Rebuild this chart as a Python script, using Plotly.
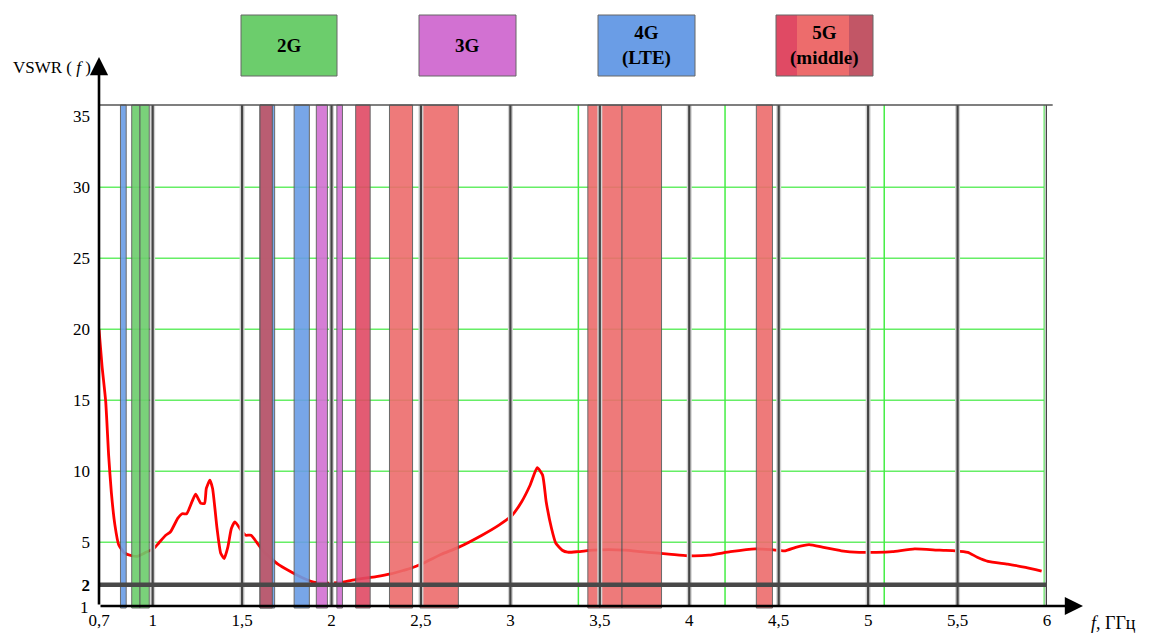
import plotly.graph_objects as go

# ---------------- data ----------------
freq_ghz = [0.70, 0.717, 0.7375, 0.754, 0.769, 0.789, 0.81, 0.842, 0.883, 0.914, 0.956,
            1.008, 1.033, 1.073, 1.10, 1.14, 1.165, 1.19, 1.22, 1.24, 1.27, 1.29, 1.30,
            1.32, 1.335, 1.36, 1.38, 1.40, 1.42, 1.44, 1.46, 1.50, 1.52, 1.55, 1.58,
            1.62, 1.70, 1.78, 1.84, 1.90, 1.95, 2.01, 2.065, 2.14, 2.25, 2.33, 2.40,
            2.443, 2.519, 2.614, 2.709, 2.841, 2.936, 3.01, 3.063, 3.11, 3.15, 3.18,
            3.20, 3.23, 3.254, 3.29, 3.32, 3.377, 3.46, 3.55, 3.64, 3.73, 3.81, 3.90,
            3.99, 4.11, 4.23, 4.37, 4.46, 4.536, 4.595, 4.67, 4.75, 4.85, 4.95, 5.046,
            5.135, 5.26, 5.40, 5.49, 5.557, 5.61, 5.67, 5.78, 5.88, 5.97]
vswr = [20.0, 17.4, 14.9, 11.1, 8.5, 6.2, 4.82, 4.24, 4.04, 4.0, 4.24,
        4.57, 4.92, 5.49, 5.73, 6.67, 7.0, 7.0, 7.85, 8.38, 7.73, 7.73, 8.78,
        9.37, 8.78, 5.96, 4.24, 3.84, 4.63, 5.96, 6.43, 5.73, 5.49, 5.49, 5.02,
        4.34, 3.45, 2.86, 2.47, 2.18, 2.12, 2.12, 2.18, 2.37, 2.57, 2.76, 3.0,
        3.16, 3.55, 4.14, 4.63, 5.49, 6.2, 6.9, 7.85, 9.01, 10.24, 9.72,
        7.85, 5.96, 4.92, 4.43, 4.29, 4.33, 4.43, 4.47, 4.43, 4.33, 4.24, 4.14,
        4.04, 4.08, 4.33, 4.53, 4.47, 4.39, 4.63, 4.82, 4.63, 4.39, 4.28, 4.28,
        4.33, 4.53, 4.43, 4.39, 4.28, 3.94, 3.65, 3.45, 3.22, 2.96]

# frequency bands (GHz) and their standard
band_start = [0.82, 0.883, 0.929, 1.60, 1.60, 1.791, 1.915, 2.03, 2.135, 2.324, 2.495,
              3.433, 3.50, 3.624, 4.375]
band_end = [0.852, 0.929, 0.981, 1.682, 1.669, 1.876, 1.977, 2.061, 2.216, 2.453, 2.709,
            3.50, 3.624, 3.845, 4.465]
band_kind = ["4G", "2G", "2G", "4G", "5Gc", "4G", "3G", "3G", "5Ga", "5Gb", "5Gb",
             "5Gb", "5Gb", "5Gb", "5Gb"]

x_tick_vals = [0.7, 1, 1.5, 2, 2.5, 3, 3.5, 4, 4.5, 5, 5.5, 6]
x_tick_text = ["0,7", "1", "1,5", "2", "2,5", "3", "3,5", "4", "4,5", "5", "5,5", "6"]
y_tick_vals = [2, 5, 10, 15, 20, 25, 30, 35]
y_tick_text = ["<b>2</b>", "5", "10", "15", "20", "25", "30", "35"]
y_min_label = 1

green_h_levels = [5, 10, 15, 20, 25, 30]
green_v_freqs = [3.38, 4.2, 5.09, 5.985]
dark_v_freqs = [1, 1.5, 2, 2.5, 3, 3.5, 4, 4.5, 5, 5.5, 6]
vswr_threshold = 2

legend_labels = ["2G", "3G", "4G<br>(LTE)", "5G<br>(middle)"]

# ---------------- style ----------------
colors = {"2G": "#6ccd6c", "3G": "#d271d2", "4G": "#6a9de6",
          "5Ga": "#e04a64", "5Gb": "#ed6c6c", "5Gc": "#c25666"}
FONT = "Liberation Serif, Times New Roman, serif"
W, H = 1152, 635
ML, MR, MT, MB = 99, 105, 105, 29
PW, PH = W - ML - MR, H - MT - MB


def px(xp):
    return (xp - ML) / PW


def py(yp):
    return (H - MB - yp) / PH


fig = go.Figure()
fig.add_trace(go.Scatter(x=freq_ghz, y=vswr, mode="lines",
                         line=dict(color="#ff0000", width=2.8, shape="spline", smoothing=0.5),
                         hoverinfo="x+y", showlegend=False))

shapes = []
for lv in green_h_levels:
    shapes.append(dict(type="line", xref="paper", yref="y", x0=0, x1=1, y0=lv, y1=lv,
                       line=dict(color="#66ee66", width=1.5), layer="below"))
for fv in green_v_freqs:
    shapes.append(dict(type="line", xref="x", yref="paper", x0=fv, x1=fv, y0=0, y1=1,
                       line=dict(color="#44ee44", width=1.5), layer="below"))
for s, e, k in zip(band_start, band_end, band_kind):
    shapes.append(dict(type="rect", xref="x", yref="paper", x0=s, x1=e, y0=-0.004, y1=1.0,
                       fillcolor=colors[k], opacity=0.9,
                       line=dict(color="#5a5a5a", width=1), layer="above"))
for fv in dark_v_freqs:
    shapes.append(dict(type="line", xref="x", yref="paper", x0=fv, x1=fv, y0=0, y1=1,
                       line=dict(color="#d2d2d2", width=5), layer="above"))
    shapes.append(dict(type="line", xref="x", yref="paper", x0=fv, x1=fv, y0=0, y1=1,
                       line=dict(color="#444444", width=2.2), layer="above"))
# top border line
shapes.append(dict(type="line", xref="paper", yref="paper", x0=0, x1=1.006, y0=1, y1=1,
                   line=dict(color="#555555", width=1.5), layer="above"))
# VSWR = 2 threshold
shapes.append(dict(type="line", xref="paper", yref="y", x0=0, x1=1.0,
                   y0=vswr_threshold, y1=vswr_threshold,
                   line=dict(color="#484848", width=4.5), layer="above"))

# legend boxes at the top
box_x = [(241, 337), (419, 516), (598, 695), (776, 873)]
box_col = ["2G", "3G", "4G", None]
annotations = []
for (x0, x1), k, lab in zip(box_x, box_col, legend_labels):
    if k is not None:
        shapes.append(dict(type="rect", xref="paper", yref="paper", x0=px(x0), x1=px(x1),
                           y0=py(76), y1=py(15), fillcolor=colors[k],
                           line=dict(color="#666666", width=1)))
    else:
        segs = [(776, 797, "5Ga"), (797, 849, "5Gb"), (849, 873, "5Gc")]
        for a, b, kk in segs:
            shapes.append(dict(type="rect", xref="paper", yref="paper", x0=px(a), x1=px(b),
                               y0=py(76), y1=py(15), fillcolor=colors[kk],
                               line=dict(width=0)))
        shapes.append(dict(type="rect", xref="paper", yref="paper", x0=px(x0), x1=px(x1),
                           y0=py(76), y1=py(15), line=dict(color="#666666", width=1)))
    annotations.append(dict(xref="paper", yref="paper", x=px((x0 + x1) / 2), y=py(45.5),
                            text="<b>%s</b>" % lab, showarrow=False,
                            font=dict(family=FONT, size=19, color="black"),
                            xanchor="center", yanchor="middle"))

# lowest VSWR label at the axis corner
annotations.append(dict(xref="paper", yref="y", x=0, y=y_min_label, xanchor="right",
                        yanchor="middle", xshift=-8, yshift=-9, text=str(y_min_label),
                        showarrow=False, font=dict(family=FONT, size=17, color="black")))
# axis arrows
annotations.append(dict(xref="paper", yref="paper", x=px(1083), y=0, ax=-(1083 - ML), ay=0,
                        text="", showarrow=True, arrowhead=2, arrowsize=1.4, arrowwidth=2.6,
                        arrowcolor="black"))
annotations.append(dict(xref="paper", yref="paper", x=0, y=py(57), ax=0, ay=(H - MB - 57),
                        text="", showarrow=True, arrowhead=2, arrowsize=1.4, arrowwidth=2.6,
                        arrowcolor="black"))
# axis titles
annotations.append(dict(xref="paper", yref="paper", x=px(11), y=py(67), xanchor="left",
                        yanchor="middle", text="VSWR ( <i>f</i> )", showarrow=False,
                        font=dict(family=FONT, size=17, color="black")))
annotations.append(dict(xref="paper", yref="paper", x=px(1089), y=py(623), xanchor="left",
                        yanchor="middle", text="<i>f</i>, ГГц", showarrow=False,
                        font=dict(family=FONT, size=18, color="black")))

fig.update_layout(
    width=W, height=H, margin=dict(l=ML, r=MR, t=MT, b=MB, autoexpand=False),
    plot_bgcolor="white", paper_bgcolor="white",
    shapes=shapes, annotations=annotations, showlegend=False,
    xaxis=dict(range=[0.7, 6], tickvals=x_tick_vals, ticktext=x_tick_text,
               showgrid=False, zeroline=False, showline=False, ticks="", automargin=False,
               tickfont=dict(family=FONT, size=17, color="black"), ticklabelstandoff=2),
    yaxis=dict(range=[0.5, 35.8], tickvals=y_tick_vals, ticktext=y_tick_text,
               showgrid=False, zeroline=False, showline=False, ticks="", automargin=False,
               tickfont=dict(family=FONT, size=17, color="black"), ticklabelstandoff=8),
)

fig.write_html("out.html")
